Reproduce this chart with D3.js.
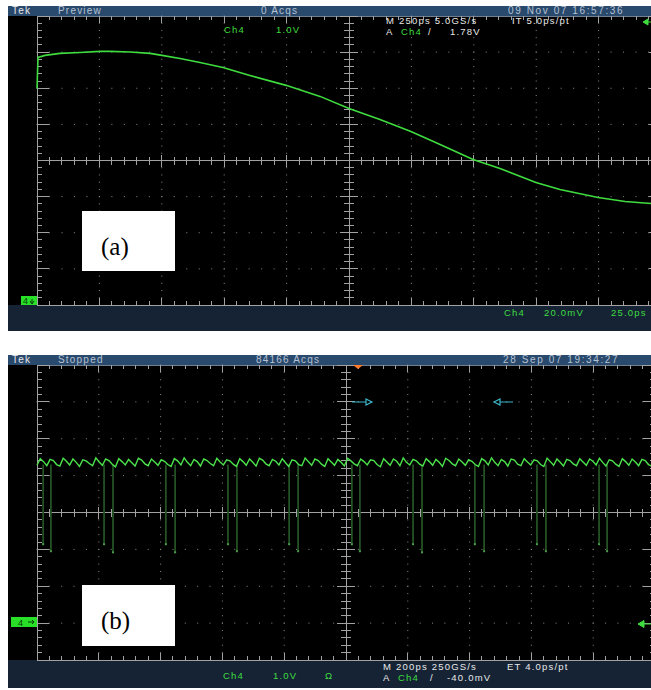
<!DOCTYPE html>
<html>
<head>
<meta charset="utf-8">
<script src="https://cdn.jsdelivr.net/npm/d3@7/dist/d3.min.js"></script>
<style>
  body { margin: 0; background: #fff; }
  svg { display: block; }
  text { font-family: "Liberation Sans", Arial, sans-serif; }
</style>
</head>
<body>
<svg id="chart" width="651" height="690"></svg>
<script>
// (a) single edge, Ch4 20.0mV/div, M 250ps/div  (time in ps, level in mV from centre)
const edgeTime = [-1250, -1246, -1218, -1158, -1078, -998, -958, -877, -797, -749, -677, -597, -505, -397, -252, -116, 0, 124, 248, 365, 497, 605, 749, 845, 998, 1106, 1210]
const edgeMv   = [39.9, 57.1, 58.2, 59.3, 59.8, 60.4, 60.4, 60.1, 59.3, 58.2, 56.5, 54.3, 51.5, 47.1, 41.6, 35.5, 28.8, 22.7, 16.1, 8.9, 0.6, -4.4, -12.2, -16.1, -20.5, -22.7, -23.8]

// (b) dropout trace, 1.0V/div, M 200ps/div (level in V above ground marker)
const noiseV = [
  4.28,4.46,4.38,4.27,4.44,4.41,4.30,4.26,4.47,4.39,4.29,4.45,4.36,4.25,4.43,4.40,4.33,4.27,4.48,4.37,
  4.28,4.45,4.41,4.31,4.24,4.46,4.38,4.29,4.44,4.35,4.26,4.47,4.42,4.32,4.27,4.45,4.37,4.28,4.43,4.39,
  4.30,4.25,4.46,4.40,4.29,4.48,4.36,4.27,4.44,4.38,4.26,4.45,4.41,4.33,4.27,4.47,4.37,4.29,4.43,4.40,
  4.31,4.25,4.46,4.38,4.28,4.45,4.36,4.26,4.47,4.42,4.32,4.27,4.44,4.39,4.29,4.46,4.35,4.25,4.43,4.40,
  4.30,4.27,4.48,4.38,4.28,4.45,4.41,4.31,4.25,4.46,4.37,4.28,4.44,4.36,4.26,4.47,4.40,4.32,4.27,4.45,
  4.38,4.29,4.43,4.41,4.30,4.24,4.46,4.37,4.28,4.45,4.39,4.27,4.48,4.36,4.29,4.44,4.40,4.31,4.26,4.46,
  4.38,4.28,4.44,4.36,4.25,4.47,4.41,4.32,4.27,4.45,4.37,4.28,4.43,4.39,4.30,4.25,4.46,4.40,4.29,4.48,
  4.36,4.27,4.44,4.38,4.26,4.45,4.42,4.31,4.27,4.46,4.37,4.29,4.43,4.40,4.30,4.25,4.47,4.38,4.28,4.45,
  4.36,4.26,4.44,4.41,4.32,4.27,4.46,4.37,4.28,4.45,4.39,4.29,4.47,4.36,4.26,4.43,4.40,4.31,4.25,4.46,
  4.38,4.28,4.45,4.37,4.27,4.44,4.41,4.30,4.26,4.47]
const dropTime = [-980, -955, -783, -754, -583, -553, -382, -353, -184, -155, 19, 45, 217, 246, 417, 447, 618, 647, 819, 845]
const dropV    = [2.14, 1.95, 2.14, 1.92, 2.14, 1.92, 2.14, 1.95, 2.14, 1.95, 2.14, 1.95, 2.14, 1.92, 2.14, 1.95, 2.14, 1.95, 2.14, 1.95]

const headA = ["Tek", "Preview", "0 Acqs", "09 Nov 07 16:57:36"]
const headB = ["Tek", "Stopped", "84166 Acqs", "28 Sep 07 19:34:27"]

const GREEN = "#3fdc3f"
const GRID = "#8a8a8a"
const svg = d3.select("#chart")

function scope(o) {
    let g = svg.append("g")
    g.append("clipPath").attr("id", o.id + "clip")
        .append("rect").attr("x", 8).attr("y", o.barTop).attr("width", 643).attr("height", o.footBottom - o.barTop)
    g = g.append("g").attr("clip-path", `url(#${o.id}clip)`)

    // background bars
    g.append("rect").attr("x", 8).attr("y", o.barTop).attr("width", 643).attr("height", o.top - o.barTop).attr("fill", "#29496d")
    g.append("rect").attr("x", 8).attr("y", o.top).attr("width", 643).attr("height", o.bottom - o.top).attr("fill", "#000")
    g.append("rect").attr("x", 8).attr("y", o.bottom).attr("width", 643).attr("height", o.footBottom - o.bottom).attr("fill", "#152335")

    const gx = d3.scaleLinear().domain([0, 10]).range([o.left, o.right])
    const gy = d3.scaleLinear().domain([0, 8]).range([o.top, o.bottom])
    const fine = d3.range(0, 10.01, 0.2)
    const fineY = d3.range(0, 8.01, 0.2)

    // dotted major lines
    const grid = g.append("g").attr("fill", GRID)
    ;[1, 2, 3, 4, 6, 7, 8, 9].forEach(i => {
        grid.selectAll(null).data(fineY).enter().append("rect")
            .attr("x", gx(i) - 0.5).attr("y", d => gy(d) - 0.5).attr("width", 1).attr("height", 1)
    })
    ;[1, 2, 3, 5, 6, 7].forEach(j => {
        grid.selectAll(null).data(fine).enter().append("rect")
            .attr("x", d => gx(d) - 0.5).attr("y", gy(j) - 0.5).attr("width", 1).attr("height", 1)
    })

    const ln = g.append("g").attr("stroke", "#a2a2a2").attr("stroke-width", 1).attr("shape-rendering", "crispEdges")
    const isMajor = d => Math.abs(d - Math.round(d)) < 1e-6
    // frame
    ln.append("line").attr("x1", gx(0)).attr("x2", gx(0)).attr("y1", gy(0)).attr("y2", gy(8))
    ln.append("line").attr("x1", gx(10)).attr("x2", gx(10)).attr("y1", gy(0)).attr("y2", gy(8))
    ln.append("line").attr("x1", gx(0)).attr("x2", gx(10)).attr("y1", gy(8)).attr("y2", gy(8))
    ln.append("line").attr("x1", gx(0)).attr("x2", gx(10)).attr("y1", gy(0)).attr("y2", gy(0)).attr("stroke", "#6f7f90")
    // centre cross
    ln.append("line").attr("x1", gx(5)).attr("x2", gx(5)).attr("y1", gy(0)).attr("y2", gy(8))
    ln.append("line").attr("x1", gx(0)).attr("x2", gx(10)).attr("y1", gy(4)).attr("y2", gy(4))

    // ticks along x (top, bottom, centre)
    ln.selectAll(null).data(fine).enter().append("line")
        .attr("x1", d => gx(d)).attr("x2", d => gx(d))
        .attr("y1", gy(0)).attr("y2", d => gy(0) + (isMajor(d) ? 7 : 4))
    ln.selectAll(null).data(fine).enter().append("line")
        .attr("x1", d => gx(d)).attr("x2", d => gx(d))
        .attr("y1", gy(8)).attr("y2", d => gy(8) - (isMajor(d) ? 7 : 4))
    ln.selectAll(null).data(fine).enter().append("line")
        .attr("x1", d => gx(d)).attr("x2", d => gx(d))
        .attr("y1", d => gy(4) - (isMajor(d) ? 6 : 4)).attr("y2", d => gy(4) + (isMajor(d) ? 6 : 4))
    // ticks along y (left, right, centre)
    ln.selectAll(null).data(fineY).enter().append("line")
        .attr("y1", d => gy(d)).attr("y2", d => gy(d))
        .attr("x1", gx(0)).attr("x2", d => gx(0) + (isMajor(d) ? 12 : 5))
    ln.selectAll(null).data(fineY).enter().append("line")
        .attr("y1", d => gy(d)).attr("y2", d => gy(d))
        .attr("x1", gx(10)).attr("x2", d => gx(10) - (isMajor(d) ? 12 : 5))
    ln.selectAll(null).data(fineY).enter().append("line")
        .attr("y1", d => gy(d)).attr("y2", d => gy(d))
        .attr("x1", d => gx(5) - (isMajor(d) ? 9 : 5)).attr("x2", d => gx(5) + (isMajor(d) ? 9 : 5))

    // header text
    const hx = [12, 58, o.acqX, o.dateX]
    g.selectAll(null).data(o.head).enter().append("text")
        .attr("x", (d, i) => hx[i]).attr("y", o.top - 2)
        .attr("font-size", 10).attr("letter-spacing", (d, i) => i == 3 ? 1.6 : 1.2)
        .attr("fill", (d, i) => i == 0 ? "#e6e6e6" : "#b5c2d2")
        .text(d => d)

    return { g, gx, gy }
}

function txt(g, x, y, s, fill) {
    g.append("text").attr("x", x).attr("y", y).attr("font-size", 9.5).attr("letter-spacing", 1.2)
        .attr("fill", fill).text(s)
}

// ---------------- panel (a)
{
    const o = { id: "a", barTop: 6, top: 16, bottom: 305, footBottom: 331, left: 37, right: 661, head: headA, acqX: 261, dateX: 508 }
    const { g } = scope(o)
    const x = d3.scaleLinear().domain([-1250, 1250]).range([o.left, o.right])
    const y = d3.scaleLinear().domain([-80, 80]).range([o.bottom, o.top])
    const line = d3.line().x((d, i) => x(edgeTime[i])).y(d => y(d))
    g.append("path").attr("d", line(edgeMv)).attr("fill", "none").attr("stroke", GREEN).attr("stroke-width", 1.6)

    txt(g, 224, 33, "Ch4", GREEN)
    txt(g, 276, 33, "1.0V", GREEN)
    txt(g, 386, 24, "M 250ps 5.0GS/s", "#e8e8e8")
    txt(g, 512, 24, "IT 5.0ps/pt", "#e8e8e8")
    txt(g, 386, 35, "A", "#e8e8e8")
    txt(g, 401, 35, "Ch4", GREEN)
    txt(g, 428, 35, "/", "#e8e8e8")
    txt(g, 450, 35, "1.78V", "#e8e8e8")
    txt(g, 504, 316, "Ch4", GREEN)
    txt(g, 544, 316, "20.0mV", GREEN)
    txt(g, 611, 316, "25.0ps", GREEN)

    // trigger level arrow
    g.append("path").attr("d", "M643,22 l5,-3 v6 z M647,22 h5").attr("fill", GREEN).attr("stroke", GREEN)
    // channel marker
    g.append("rect").attr("x", 21).attr("y", 296).attr("width", 16).attr("height", 9).attr("fill", "#27e027")
    g.append("text").attr("x", 23).attr("y", 304).attr("font-size", 9).attr("fill", "#0a3a0a").text("4")
    g.append("path").attr("d", "M32,299 v4 M30,301 l2,3 l2,-3").attr("stroke", "#0a3a0a").attr("fill", "none")

    // label box
    svg.append("rect").attr("x", 82).attr("y", 211).attr("width", 93).attr("height", 60).attr("fill", "#fff")
    svg.append("text").attr("x", 101).attr("y", 255).attr("font-size", 25)
        .style("font-family", "'Liberation Serif', 'Times New Roman', serif").attr("fill", "#000").text("(a)")
}

// ---------------- panel (b)
{
    const o = { id: "b", barTop: 355, top: 365, bottom: 660, footBottom: 688, left: 37, right: 655, head: headB, acqX: 256, dateX: 503 }
    const { g } = scope(o)
    const x = d3.scaleLinear().domain([-1000, 1000]).range([o.left, o.right])
    const y = d3.scaleLinear().domain([-1, 7]).range([o.bottom, o.top])
    const sample = d3.scaleLinear().domain([0, noiseV.length - 1]).range([-1000, 1000])

    // dropouts (persistence, dim)
    g.selectAll(".drop").data(dropTime).enter().append("line").attr("class", "drop")
        .attr("x1", d => x(d)).attr("x2", d => x(d))
        .attr("y1", y(4.3)).attr("y2", (d, i) => y(dropV[i]))
        .attr("stroke", "#245224").attr("stroke-width", 1.8)
    g.selectAll(".dropEnd").data(dropTime).enter().append("rect").attr("class", "dropEnd")
        .attr("x", d => x(d) - 1).attr("y", (d, i) => y(dropV[i]) - 1).attr("width", 2).attr("height", 2)
        .attr("fill", "#4c9c4c")

    const line = d3.line().x((d, i) => x(sample(i))).y(d => y(d))
    g.append("path").attr("d", line(noiseV)).attr("fill", "none").attr("stroke", "#4be24b").attr("stroke-width", 1.4)

    txt(g, 223, 679, "Ch4", GREEN)
    txt(g, 273, 679, "1.0V", GREEN)
    txt(g, 325, 679, "Ω", GREEN)
    txt(g, 383, 670, "M 200ps 250GS/s", "#e8e8e8")
    txt(g, 507, 670, "ET 4.0ps/pt", "#e8e8e8")
    txt(g, 383, 681, "A", "#e8e8e8")
    txt(g, 398, 681, "Ch4", GREEN)
    txt(g, 430, 681, "/", "#e8e8e8")
    txt(g, 447, 681, "-40.0mV", "#e8e8e8")

    // trigger position
    g.append("path").attr("d", "M353,365 h10 l-5,4 z").attr("fill", "#ff7a2a")
    // cursor arrows
    const cy = 402
    g.append("path").attr("d", `M352,${cy} h14 M366,${cy - 3} l6,3 l-6,3 z`).attr("stroke", "#3ab8cc").attr("fill", "none").attr("stroke-width", 1.2)
    g.append("path").attr("d", `M513,${cy} h-13 M500,${cy - 3} l-6,3 l6,3 z`).attr("stroke", "#3ab8cc").attr("fill", "none").attr("stroke-width", 1.2)
    // trigger level arrow
    g.append("path").attr("d", "M638,624 l6,-3.5 v7 z M643,624 h9").attr("fill", GREEN).attr("stroke", GREEN)
    // channel marker
    g.append("rect").attr("x", 11).attr("y", 617).attr("width", 26).attr("height", 10).attr("fill", "#27e027")
    g.append("text").attr("x", 18).attr("y", 626).attr("font-size", 9).attr("fill", "#0a3a0a").text("4")
    g.append("path").attr("d", "M28,622 h6 M32,620 l2,2 l-2,2").attr("stroke", "#0a3a0a").attr("fill", "none")

    svg.append("rect").attr("x", 82).attr("y", 585).attr("width", 93).attr("height", 61).attr("fill", "#fff")
    svg.append("text").attr("x", 101).attr("y", 629).attr("font-size", 25)
        .style("font-family", "'Liberation Serif', 'Times New Roman', serif").attr("fill", "#000").text("(b)")
}
</script>
</body>
</html>
